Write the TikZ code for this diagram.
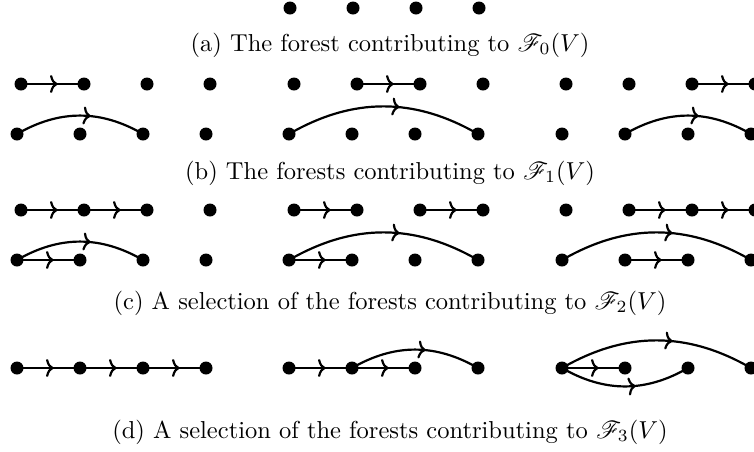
\documentclass[tikz,border=0pt]{standalone}
\usepackage{mathrsfs}
\usetikzlibrary{arrows.meta,decorations.markings}
\begin{document}
\begin{tikzpicture}[x=1pt,y=1pt,
  dot/.style={circle,fill=black,inner sep=0pt,minimum size=13pt},
  fwd/.style={line width=2.2pt, postaction={decorate},
    decoration={markings, mark=at position 0.58 with {\arrow{Computer Modern Rightarrow[length=7.5pt,width=18pt]}}}},
  captext/.style={inner sep=0pt}]
\useasboundingbox (0,0) rectangle (754,-451);
\clip (0,0) rectangle (754,-451);
% (a)
\foreach \i in {1,...,4}{\node[dot] (a\i) at ({290+63*(\i-1)},-8) {};}
% (b),(c),(d)
\foreach \p/\xt/\xb in {A/21/17, B/294/289, C/566/562}{
  \foreach \i in {1,...,4}{
    \node[dot] (b\p t\i) at ({\xt+63*(\i-1)},-84) {};
    \node[dot] (b\p u\i) at ({\xb+63*(\i-1)},-134) {};
    \node[dot] (c\p t\i) at ({\xt+63*(\i-1)},-210) {};
    \node[dot] (c\p u\i) at ({\xb+63*(\i-1)},-260) {};
    \node[dot] (d\p\i) at ({\xb+63*(\i-1)},-368) {};
  }
}
% (b) edges
\draw[fwd] (bAt1.center) -- (bAt2.center);
\draw[fwd] (bAu1.center) to[bend left=30] (bAu3.center);
\draw[fwd] (bBt2.center) -- (bBt3.center);
\draw[fwd] (bBu1.center) to[bend left=30] (bBu4.center);
\draw[fwd] (bCt3.center) -- (bCt4.center);
\draw[fwd] (bCu2.center) to[bend left=30] (bCu4.center);
% (c) edges
\draw[fwd] (cAt1.center) -- (cAt2.center);
\draw[fwd] (cAt2.center) -- (cAt3.center);
\draw[fwd] (cAu1.center) to[bend left=30] (cAu3.center);
\draw[fwd] (cAu1.center) -- (cAu2.center);
\draw[fwd] (cBt1.center) -- (cBt2.center);
\draw[fwd] (cBt3.center) -- (cBt4.center);
\draw[fwd] (cBu1.center) to[bend left=30] (cBu4.center);
\draw[fwd] (cBu1.center) -- (cBu2.center);
\draw[fwd] (cCt2.center) -- (cCt3.center);
\draw[fwd] (cCt3.center) -- (cCt4.center);
\draw[fwd] (cCu1.center) to[bend left=30] (cCu4.center);
\draw[fwd] (cCu2.center) -- (cCu3.center);
% (d) edges
\draw[fwd] (dA1.center) -- (dA2.center);
\draw[fwd] (dA2.center) -- (dA3.center);
\draw[fwd] (dA3.center) -- (dA4.center);
\draw[fwd] (dB1.center) -- (dB2.center);
\draw[fwd] (dB2.center) -- (dB3.center);
\draw[fwd] (dB2.center) to[bend left=30] (dB4.center);
\draw[fwd] (dC1.center) -- (dC2.center);
\draw[fwd] (dC1.center) to[bend left=30] (dC4.center);
\draw[fwd] (dC1.center) to[bend right=30] (dC3.center);
% captions
\node[captext] (capA) at (390,-45) {\scalebox{2.45}{(a) The forest contributing to $\mathscr{F}_0(V)$}};
\node[captext] (capB) at (390,-173) {\scalebox{2.45}{(b) The forests contributing to $\mathscr{F}_1(V)$}};
\node[captext] (capC) at (390,-303) {\scalebox{2.45}{(c) A selection of the forests contributing to $\mathscr{F}_2(V)$}};
\node[captext] (capD) at (390,-432) {\scalebox{2.45}{(d) A selection of the forests contributing to $\mathscr{F}_3(V)$}};
\end{tikzpicture}
\end{document}
